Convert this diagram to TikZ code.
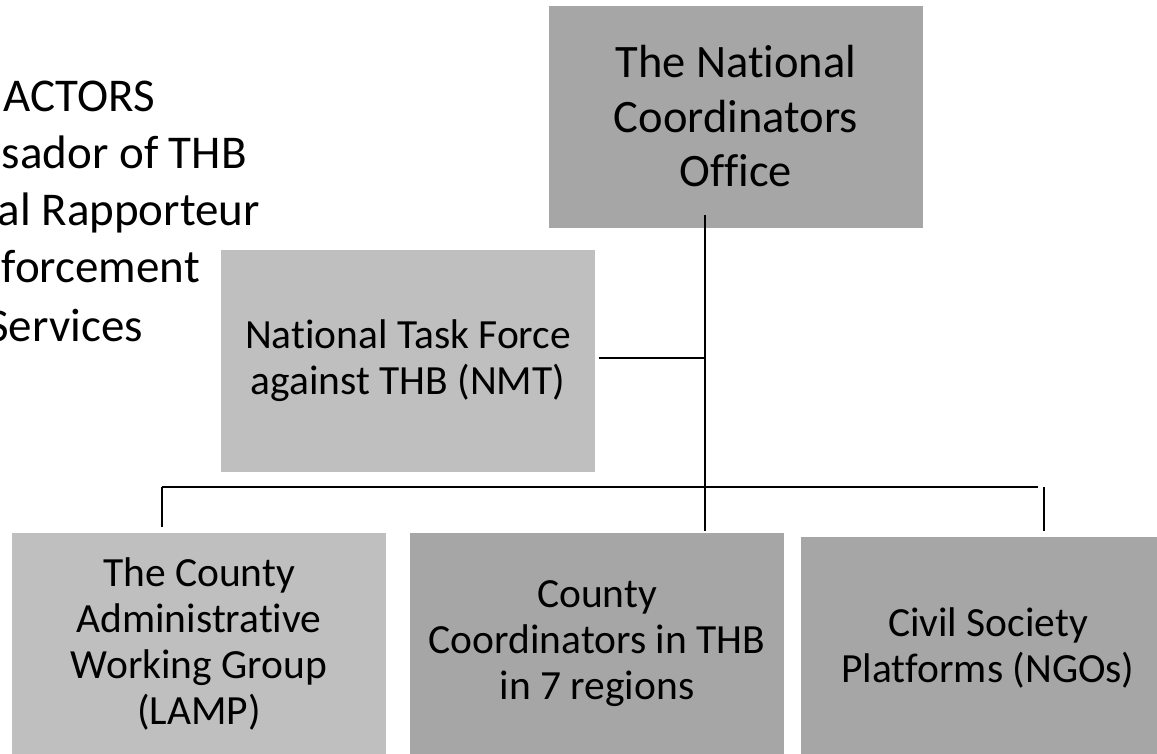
\documentclass[tikz,border=0pt]{standalone}
\usepackage{fontspec}
\setmainfont{Carlito}[Ligatures=NoCommon]
\usetikzlibrary{positioning}
\definecolor{darkbox}{HTML}{A6A6A6}
\definecolor{lightbox}{HTML}{BFBFBF}

\begin{document}
\begin{tikzpicture}[x=1pt,y=-1pt,
  box/.style={minimum width=374pt,minimum height=222pt,inner sep=0pt,align=center},
  big/.style={font=\fontsize{46.5}{54.5}\selectfont},
  small/.style={font=\fontsize{41.5}{46}\selectfont},
  actor/.style={anchor=base east,inner sep=0pt,font=\fontsize{47}{57}\selectfont},
  link/.style={line width=1.3pt}]
\useasboundingbox (0,0) rectangle (1157,753);
\clip (0,0) rectangle (1157,753);

% boxes
\node[box,big,fill=darkbox] (office) at (736,116.5) {The National\\Coordinators\\Office};
\node[box,small,fill=lightbox] (nmt) at (408,361) {National Task Force\\against THB (NMT)};
\node[box,small,fill=lightbox] (lamp) at (199,644) {The County\\Administrative\\Working Group\\(LAMP)};
\node[box,small,fill=darkbox] (county) at (597,644) {County\\Coordinators in THB\\in 7 regions};
\node[box,small,fill=darkbox] (ngo) at (988,648) {Civil Society\\Platforms (NGOs)};

% actors list, cut at the left edge
\node[actor] (a1) at (155,111) {ACTORS};
\node[actor] (a2) at (247,168) {sador of THB};
\node[actor] (a3) at (260,225) {al Rapporteur};
\node[actor] (a4) at (200,282) {forcement};
\node[actor] (a5) at (143,341) {Services};

% lines
\coordinate (top) at (705,215);
\coordinate (mid) at (705,358);
\coordinate (nmtR) at ([xshift=4]nmt.east);
\coordinate (busL) at (162,487);
\coordinate (busR) at (1038,487);
\coordinate (dropL) at (162,527);
\coordinate (dropC) at (705,531);
\coordinate (rtop) at (1044,487);
\coordinate (dropR) at (1044,531);

\draw[link] (top) -- (dropC);
\draw[link] (nmtR |- mid) -- (mid);
\draw[line width=1.8pt] (busL) -- (busR);
\draw[link] (busL) -- (dropL);
\draw[link] (rtop) -- (dropR);

\end{tikzpicture}
\end{document}
